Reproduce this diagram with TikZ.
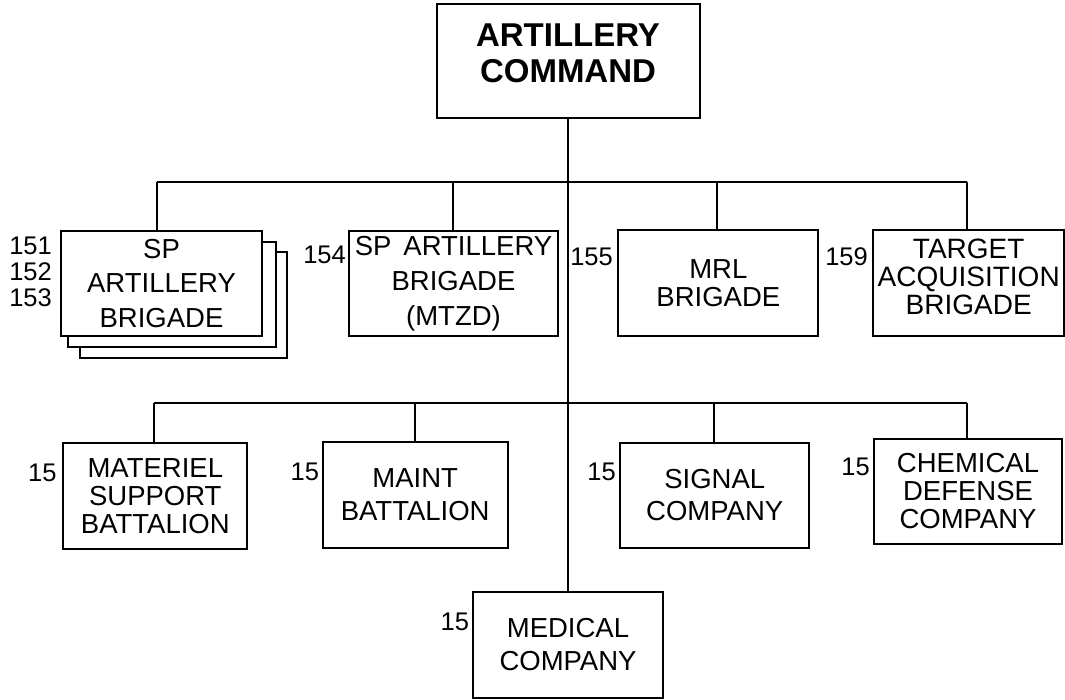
\documentclass[tikz,border=0pt]{standalone}
\usepackage{fontspec}
\setmainfont{Liberation Sans}
\tikzset{
  unit/.style={draw, line width=2pt, fill=white, inner sep=0pt, align=center,
    font=\fontsize{27.5}{28}\selectfont},
  lbl/.style={inner sep=0pt, anchor=east, align=right,
    font=\fontsize{25.5}{26}\selectfont},
  conn/.style={line width=1.8pt},
  trunk/.style={line width=2.4pt}
}
\begin{document}
\begin{tikzpicture}[x=1pt,y=-1pt]
\useasboundingbox (0,0) rectangle (1065,700);
% top
\node[unit, minimum width=263pt, minimum height=114pt, text depth=16pt,
  font=\fontsize{33}{36.5}\selectfont\bfseries] (cmd) at (568,61.3) {ARTILLERY\\COMMAND};
% first row
\node[unit, minimum width=207.3pt, minimum height=106pt] (sp3) at (183.7,305.3) {};
\node[unit, minimum width=208pt, minimum height=105.3pt] (sp2) at (171.7,294.3) {};
\node[unit, minimum width=201pt, minimum height=105pt,
  font=\fontsize{27.5}{34.5}\selectfont] (sp1) at (161.5,283.5) {SP\\ARTILLERY\\BRIGADE};
\node[unit, minimum width=208.4pt, minimum height=105pt,
  font=\fontsize{27.5}{35}\selectfont] (sp4) at (453.5,283.5) {SP\hspace{12pt}ARTILLERY\\BRIGADE\\(MTZD)};
\node[unit, minimum width=200pt, minimum height=105.7pt] (mrl) at (718.3,282.8) {MRL\\BRIGADE};
\node[unit, minimum width=190.7pt, minimum height=105.7pt, text depth=12pt,
  font=\fontsize{28}{28}\selectfont] (tgt) at (968.7,282.8) {TARGET\\ACQUISITION\\BRIGADE};
% second row
\node[unit, minimum width=184pt, minimum height=106.6pt] (mat) at (155.3,496) {MATERIEL\\SUPPORT\\BATTALION};
\node[unit, minimum width=185pt, minimum height=106pt,
  font=\fontsize{27.5}{33}\selectfont] (mnt) at (415.2,494.7) {MAINT\\BATTALION};
\node[unit, minimum width=189.3pt, minimum height=105pt,
  font=\fontsize{27.5}{32}\selectfont] (sig) at (714.7,495.2) {SIGNAL\\COMPANY};
\node[unit, minimum width=187.4pt, minimum height=105pt] (chm) at (968,491.5) {CHEMICAL\\DEFENSE\\COMPANY};
\node[unit, minimum width=190.3pt, minimum height=105.4pt,
  font=\fontsize{27.5}{33}\selectfont] (med) at (568,645) {MEDICAL\\COMPANY};
% labels
\node[lbl] (l151) at (52,272) {151\\152\\153};
\node[lbl] (l154) at (346,255) {154};
\node[lbl] (l155) at (613,256.7) {155};
\node[lbl] (l159) at (868,256.7) {159};
\node[lbl] (l15a) at (56.7,473.3) {15};
\node[lbl] (l15b) at (319.3,471.7) {15};
\node[lbl] (l15c) at (616,471.7) {15};
\node[lbl] (l15d) at (870,466.7) {15};
\node[lbl] (l15e) at (469.3,621.7) {15};
% bus coordinates
\coordinate (b1) at (156.7,182);
\coordinate (b2) at (452.7,182);
\coordinate (b3) at (717.3,182);
\coordinate (b4) at (966.7,182);
\coordinate (c1) at (154,403);
\coordinate (c2) at (415,403);
\coordinate (c3) at (714,403);
\coordinate (c4) at (967.3,403);
% connectors
\draw[trunk] (cmd.south) -- (cmd.south |- med.north);
\draw[conn] (b1) -- (b4);
\draw[conn] (b1) -- (b1 |- sp1.north);
\draw[conn] (b2) -- (b2 |- sp4.north);
\draw[conn] (b3) -- (b3 |- mrl.north);
\draw[conn] (b4) -- (b4 |- tgt.north);
\draw[conn] (c1) -- (c4);
\draw[conn] (c1) -- (c1 |- mat.north);
\draw[conn] (c2) -- (c2 |- mnt.north);
\draw[conn] (c3) -- (c3 |- sig.north);
\draw[conn] (c4) -- (c4 |- chm.north);
\end{tikzpicture}
\end{document}
